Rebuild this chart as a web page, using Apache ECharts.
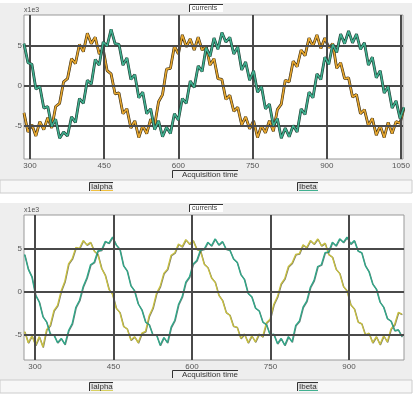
<!DOCTYPE html>
<html>
<head>
<meta charset="utf-8">
<script src="https://cdn.jsdelivr.net/npm/echarts@6/dist/echarts.min.js"></script>
<style>
  html, body { margin: 0; padding: 0; background: #fff; }
  #main { width: 414px; height: 395px; }
</style>
</head>
<body>
<div id="main"></div>
<script>
// top panel - acquisition time samples and currents (x1e3)
var timeTop = [288, 296, 304, 312, 320, 328, 336, 344, 352, 360, 368, 376, 384, 392, 400, 408, 416, 424, 432, 440,
  448, 456, 464, 472, 480, 488, 496, 504, 512, 520, 528, 536, 544, 552, 560, 568, 576, 584, 592, 600,
  608, 616, 624, 632, 640, 648, 656, 664, 672, 680, 688, 696, 704, 712, 720, 728, 736, 744, 752, 760,
  768, 776, 784, 792, 800, 808, 816, 824, 832, 840, 848, 856, 864, 872, 880, 888, 896, 904, 912, 920,
  928, 936, 944, 952, 960, 968, 976, 984, 992, 1000, 1008, 1016, 1024, 1032, 1040, 1048, 1056]
var ialphaTop = [-3.4, -5.8, -4.9, -6.3, -4.5, -5.5, -4.0, -5.3, -2.6, -2.2, 0.5, 0.9, 3.4, 2.8, 5.2, 4.3, 6.6, 5.3, 6.1, 4.0,
  4.6, 1.9, 1.5, -1.0, -0.9, -3.5, -2.9, -5.3, -4.4, -6.5, -5.0, -6.0, -4.2, -5.0, -2.0, -1.1, 2.1, 2.2, 5.0, 4.0,
  6.4, 4.9, 5.9, 4.5, 6.1, 4.5, 5.0, 2.6, 3.4, 0.9, 0.8, -1.7, -1.2, -3.2, -2.7, -4.9, -3.9, -5.4, -4.4, -6.5,
  -5.0, -5.9, -4.4, -5.7, -3.0, -2.3, 0.7, 0.5, 3.1, 2.4, 4.5, 3.8, 6.0, 5.0, 6.4, 4.7, 6.0, 4.8, 5.3, 2.2,
  2.9, 0.9, 1.0, -1.4, -1.1, -3.5, -3.0, -5.0, -4.1, -6.2, -5.0, -6.5, -4.6, -6.0, -4.5, -4.7, -2.8]
var ibetaTop = [5.3, 2.9, 2.7, -0.4, -0.1, -2.8, -2.6, -5.1, -4.2, -6.6, -5.8, -6.3, -3.9, -4.6, -1.6, -2.2, 0.7, 0.2, 3.3, 2.6,
  5.5, 5.0, 7.1, 5.3, 5.2, 2.6, 3.5, 0.8, 1.4, -1.5, -0.8, -3.5, -2.9, -5.5, -4.4, -6.4, -5.2, -6.0, -3.5, -4.3,
  -1.6, -2.2, 0.6, -0.2, 2.5, 1.8, 4.8, 3.7, 6.0, 4.6, 6.7, 5.5, 6.1, 4.0, 4.9, 2.0, 3.0, 0.7, 1.9, -0.8,
  -0.1, -2.9, -2.3, -5.0, -4.1, -6.6, -5.3, -6.4, -5.0, -5.8, -2.9, -3.6, -0.8, -1.5, 1.5, 0.8, 3.6, 2.7, 5.2, 4.2,
  6.5, 5.3, 6.9, 5.4, 6.5, 4.6, 5.4, 2.6, 3.6, 1.0, 1.9, -0.9, -0.1, -2.8, -1.9, -4.1, -2.7]

// bottom panel
var timeBot = [280, 287, 294, 301, 308, 315, 322, 329, 336, 343, 350, 357, 364, 371, 378, 385, 392, 399, 406, 413,
  420, 427, 434, 441, 448, 455, 462, 469, 476, 483, 490, 497, 504, 511, 518, 525, 532, 539, 546, 553,
  560, 567, 574, 581, 588, 595, 602, 609, 616, 623, 630, 637, 644, 651, 658, 665, 672, 679, 686, 693,
  700, 707, 714, 721, 728, 735, 742, 749, 756, 763, 770, 777, 784, 791, 798, 805, 812, 819, 826, 833,
  840, 847, 854, 861, 868, 875, 882, 889, 896, 903, 910, 917, 924, 931, 938, 945, 952, 959, 966, 973,
  980, 987, 994, 1001]
var ialphaBot = [-4.6, -5.9, -5.1, -6.2, -5.2, -6.4, -4.4, -3.9, -2.2, -1.6, 0.1, 1.2, 3.2, 3.8, 5.1, 5.0, 5.9, 5.4, 5.7, 4.7,
  4.3, 2.7, 1.9, 0.3, -0.3, -1.9, -2.4, -4.0, -4.3, -5.6, -5.2, -5.9, -4.8, -4.6, -2.8, -1.9, -0.2, 0.6, 2.1, 2.6,
  4.2, 4.5, 5.5, 5.2, 6.0, 5.5, 5.9, 4.9, 4.7, 3.2, 2.8, 1.6, 1.1, -0.4, -1.0, -2.4, -2.7, -4.0, -4.1, -5.4,
  -4.9, -5.9, -5.1, -5.8, -4.9, -5.2, -3.6, -3.2, -1.5, -0.6, 0.9, 1.5, 2.9, 3.3, 4.3, 4.4, 5.4, 5.1, 5.9, 5.5,
  6.1, 5.3, 5.6, 4.3, 4.0, 2.6, 2.1, 0.6, 0.1, -1.5, -2.0, -3.5, -3.7, -5.0, -4.8, -5.9, -5.2, -6.1, -5.1, -5.8,
  -4.3, -3.8, -2.4, -2.6]
var ibetaBot = [4.3, 2.6, 1.7, -0.4, -1.2, -2.9, -3.5, -4.9, -5.0, -5.9, -5.4, -6.1, -4.5, -3.7, -1.8, -1.0, 0.6, 1.6, 3.1, 3.4,
  4.7, 4.8, 5.8, 5.6, 6.3, 5.4, 4.9, 3.0, 2.4, 0.7, 0.1, -1.4, -2.1, -3.5, -3.8, -5.0, -5.0, -6.2, -5.3, -5.9,
  -4.1, -3.3, -1.5, -0.6, 1.1, 1.7, 3.2, 3.6, 4.8, 4.9, 5.7, 5.3, 6.1, 5.4, 5.8, 4.9, 4.8, 3.8, 3.4, 2.0,
  1.4, -0.2, -0.6, -1.9, -2.2, -3.5, -3.8, -5.0, -4.9, -6.0, -5.4, -6.2, -5.2, -5.8, -3.9, -3.4, -1.8, -1.1, 0.5, 1.3,
  2.9, 3.1, 4.5, 4.6, 5.7, 5.3, 6.1, 5.7, 6.3, 5.5, 5.9, 4.7, 4.5, 3.0, 2.3, 0.9, 0.3, -1.2, -1.8, -3.1,
  -3.4, -4.5, -4.4, -5.2]

var xTicksTop = [300, 450, 600, 750, 900, 1050]
var xTicksBot = [300, 450, 600, 750, 900]
var yTicks = [-5, 0, 5]

function pairs(t, v) {
  return t.map(function (x, i) { return [x, v[i]] })
}

var font = 'Liberation Sans, Arial, sans-serif'

function gridLines(xs) {
  var d = []
  xs.forEach(function (v) { d.push({ xAxis: v }) })
  yTicks.forEach(function (v) { d.push({ yAxis: v }) })
  return d
}

function plain(v) { return String(v) }

function axisX(idx, min, max, ticks) {
  return {
    type: 'value', gridIndex: idx, min: min, max: max,
    splitLine: { show: false },
    axisTick: { show: false },
    axisLine: { show: false },
    axisLabel: { customValues: ticks, formatter: plain, color: '#555', fontSize: 8, fontFamily: font, margin: 3 }
  }
}

function axisY(idx, min, max) {
  return {
    type: 'value', gridIndex: idx, min: min, max: max,
    splitLine: { show: false },
    axisTick: { show: false },
    axisLine: { show: false },
    axisLabel: { customValues: yTicks, formatter: plain, color: '#555', fontSize: 8, fontFamily: font, margin: 2 }
  }
}

function panelGraphics(dy) {
  return [
    { type: 'rect', z: -10, shape: { x: 0, y: 3 + dy, width: 412, height: 177 }, style: { fill: '#eeeeee' } },
    { type: 'rect', z: -10, shape: { x: 0, y: 180 + dy, width: 412, height: 13 }, style: { fill: '#f7f7f7', stroke: '#cccccc', lineWidth: 1 } },
    { type: 'rect', shape: { x: 189, y: 4 + dy, width: 34, height: 8 }, style: { fill: '#fff' } },
    { type: 'polyline', shape: { points: [[189.5, 12 + dy], [189.5, 4.5 + dy], [223, 4.5 + dy]] }, style: { stroke: '#333', fill: null, lineWidth: 1 } },
    { type: 'text', x: 192, y: 8 + dy, style: { text: 'currents', fontSize: 7, fontFamily: font, fill: '#444', verticalAlign: 'middle' } },
    { type: 'text', x: 24, y: 10 + dy, style: { text: 'x1e3', fontSize: 7, fontFamily: font, fill: '#555', verticalAlign: 'middle' } },
    { type: 'polyline', shape: { points: [[172.5, 178 + dy], [172.5, 170.5 + dy], [238, 170.5 + dy]] }, style: { stroke: '#333', fill: null, lineWidth: 1 } },
    { type: 'text', x: 182, y: 174.5 + dy, style: { text: 'Acquisition time', fontSize: 8, fontFamily: font, fill: '#333', verticalAlign: 'middle' } },
    { type: 'rect', shape: { x: 89, y: 182 + dy, width: 24, height: 9 }, style: { fill: '#e4e4e4' } },
    { type: 'polyline', shape: { points: [[89.5, 191 + dy], [89.5, 182.5 + dy], [113, 182.5 + dy]] }, style: { stroke: '#333', fill: null, lineWidth: 1 } },
    { type: 'line', shape: { x1: 91, y1: 190.5 + dy, x2: 113, y2: 190.5 + dy }, style: { stroke: dy ? '#d8d060' : '#f0c040', lineWidth: 1 } },
    { type: 'text', x: 91, y: 186.5 + dy, style: { text: 'Ialpha', fontSize: 8, fontFamily: font, fill: '#333', verticalAlign: 'middle' } },
    { type: 'rect', shape: { x: 297, y: 182 + dy, width: 21, height: 9 }, style: { fill: '#e4e4e4' } },
    { type: 'polyline', shape: { points: [[297.5, 191 + dy], [297.5, 182.5 + dy], [318, 182.5 + dy]] }, style: { stroke: '#333', fill: null, lineWidth: 1 } },
    { type: 'line', shape: { x1: 299, y1: 190.5 + dy, x2: 318, y2: 190.5 + dy }, style: { stroke: '#40b090', lineWidth: 1 } },
    { type: 'text', x: 299, y: 186.5 + dy, style: { text: 'Ibeta', fontSize: 8, fontFamily: font, fill: '#333', verticalAlign: 'middle' } }
  ]
}

var chart = echarts.init(document.getElementById('main'), null, { renderer: 'canvas' })

var markStyle = {
  symbol: 'none', silent: true, animation: false,
  label: { show: false },
  lineStyle: { color: '#4a4a4a', width: 2, type: 'solid' }
}

chart.setOption({
  animation: false,
  backgroundColor: '#fff',
  graphic: panelGraphics(0).concat(panelGraphics(200)),
  grid: [
    { left: 24, top: 15, width: 379, height: 144, show: true, backgroundColor: '#fff', borderColor: '#999', borderWidth: 1 },
    { left: 24, top: 215, width: 380, height: 145, show: true, backgroundColor: '#fff', borderColor: '#999', borderWidth: 1 }
  ],
  xAxis: [axisX(0, 288, 1054, xTicksTop), axisX(1, 279, 1005, xTicksBot)],
  yAxis: [axisY(0, -9.2, 8.9), axisY(1, -7.9, 8.85)],
  series: [
    { type: 'line', xAxisIndex: 0, yAxisIndex: 0, data: [], z: 1, markLine: Object.assign({ data: gridLines(xTicksTop) }, markStyle) },
    { type: 'line', xAxisIndex: 1, yAxisIndex: 1, data: [], z: 1, markLine: Object.assign({ data: gridLines(xTicksBot) }, markStyle) },
    // top: dark under-strokes then coloured strokes
    { name: 'Ialpha', type: 'line', xAxisIndex: 0, yAxisIndex: 0, data: pairs(timeTop, ialphaTop), showSymbol: false, z: 3,
      lineStyle: { color: '#3a2c10', width: 2.8 } },
    { name: 'Ialpha', type: 'line', xAxisIndex: 0, yAxisIndex: 0, data: pairs(timeTop, ialphaTop), showSymbol: false, z: 4,
      lineStyle: { color: '#e8a830', width: 1.6 } },
    { name: 'Ibeta', type: 'line', xAxisIndex: 0, yAxisIndex: 0, data: pairs(timeTop, ibetaTop), showSymbol: false, z: 5,
      lineStyle: { color: '#1d3a30', width: 2.8 } },
    { name: 'Ibeta', type: 'line', xAxisIndex: 0, yAxisIndex: 0, data: pairs(timeTop, ibetaTop), showSymbol: false, z: 6,
      lineStyle: { color: '#40b090', width: 1.6 } },
    // bottom
    { name: 'Ialpha', type: 'line', xAxisIndex: 1, yAxisIndex: 1, data: pairs(timeBot, ialphaBot), showSymbol: false, z: 3,
      lineStyle: { color: '#c8c040', width: 1.3, shadowColor: 'rgba(40,40,0,0.6)', shadowOffsetX: 0.5, shadowOffsetY: 0.5 } },
    { name: 'Ibeta', type: 'line', xAxisIndex: 1, yAxisIndex: 1, data: pairs(timeBot, ibetaBot), showSymbol: false, z: 4,
      lineStyle: { color: '#2fa888', width: 1.3, shadowColor: 'rgba(0,40,30,0.6)', shadowOffsetX: 0.5, shadowOffsetY: 0.5 } }
  ]
})
</script>
</body>
</html>
